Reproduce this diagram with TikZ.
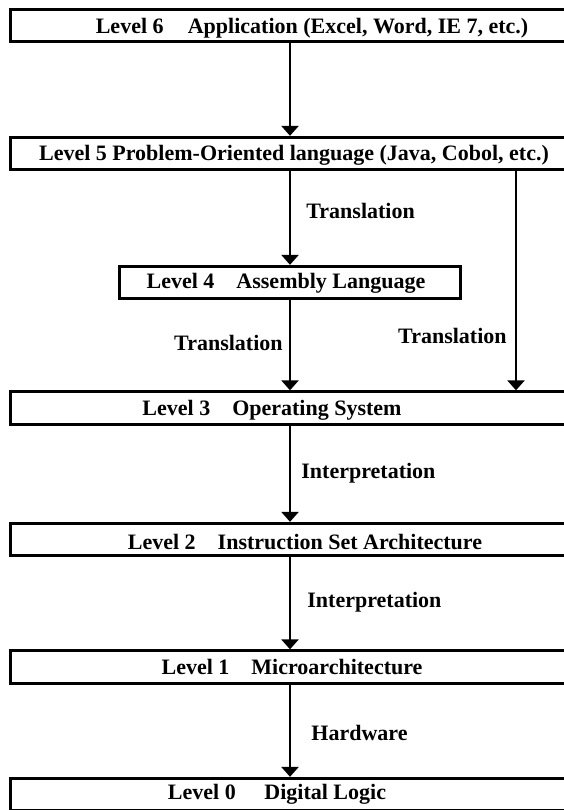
\documentclass[tikz,border=0pt]{standalone}
\usepackage{fontspec}
\setmainfont{Liberation Serif}
\usetikzlibrary{arrows.meta}

\begin{document}
\begin{tikzpicture}[x=1pt,y=-1pt,>={Triangle[width=17pt,length=10pt]},line width=2.8pt,
  level box/.style={draw,rectangle,minimum height=32.5pt,inner sep=0pt},
  level text/.style={inner sep=0pt,font=\bfseries\fontsize{22}{26}\selectfont}]

  \useasboundingbox (0,0) rectangle (564,810);
  \clip (0,0) rectangle (564,810);

  \node[level box,minimum width=559pt] (l6) at (290,25.5) {};
  \node[level box,minimum width=559pt] (l5) at (290,153.5) {};
  \node[level box,minimum width=341pt] (l4) at (290,282.5) {};
  \node[level box,minimum width=559pt] (l3) at (290,408) {};
  \node[level box,minimum width=559pt] (l2) at (290,539.5) {};
  \node[level box,minimum width=559pt] (l1) at (290,667) {};
  \node[level box,minimum width=559pt] (l0) at (290,794.5) {};
  \coordinate (side) at (516,0);

  \node[level text] (t6) at ([xshift=22pt,yshift=-3pt]l6.center) {Level 6\hspace{1.1em}Application (Excel, Word, IE 7, etc.)};
  \node[level text] (t5) at ([xshift=4pt,yshift=-2pt]l5.center) {Level 5 Problem-Oriented language (Java, Cobol, etc.)};
  \node[level text] (t4) at ([xshift=-4pt,yshift=-1pt]l4.center) {Level 4\quad Assembly Language};
  \node[level text] (t3) at ([xshift=-18pt,yshift=-2pt]l3.center) {Level 3\quad Operating System};
  \node[level text] (t2) at ([xshift=15pt,yshift=-2pt]l2.center) {Level 2\quad Instruction Set Architecture};
  \node[level text] (t1) at ([xshift=2pt]l1.center) {Level 1\quad Microarchitecture};
  \node[level text] (t0) at ([xshift=-13pt]l0.center) {Level 0\hspace{1.3em}Digital Logic};

  \path[->,every node/.style={level text,inner sep=2pt}]
    (l6) edge (l5)

    (l5) edge node[right,pos=0.43,xshift=13pt] {Translation} (l4)

    (l4) edge node[left,pos=0.47,xshift=-4pt] {Translation} (l3)

    (l5.south -| side) edge node[left,pos=0.75,xshift=-6pt] {Translation} (l3.north -| side)

    (l3) edge node[right,pos=0.49,xshift=8pt] {Interpretation} (l2)

    (l2) edge node[right,pos=0.49,xshift=14pt] {Interpretation} (l1)

    (l1) edge node[right,pos=0.52,xshift=18pt] {Hardware} (l0);
\end{tikzpicture}
\end{document}
